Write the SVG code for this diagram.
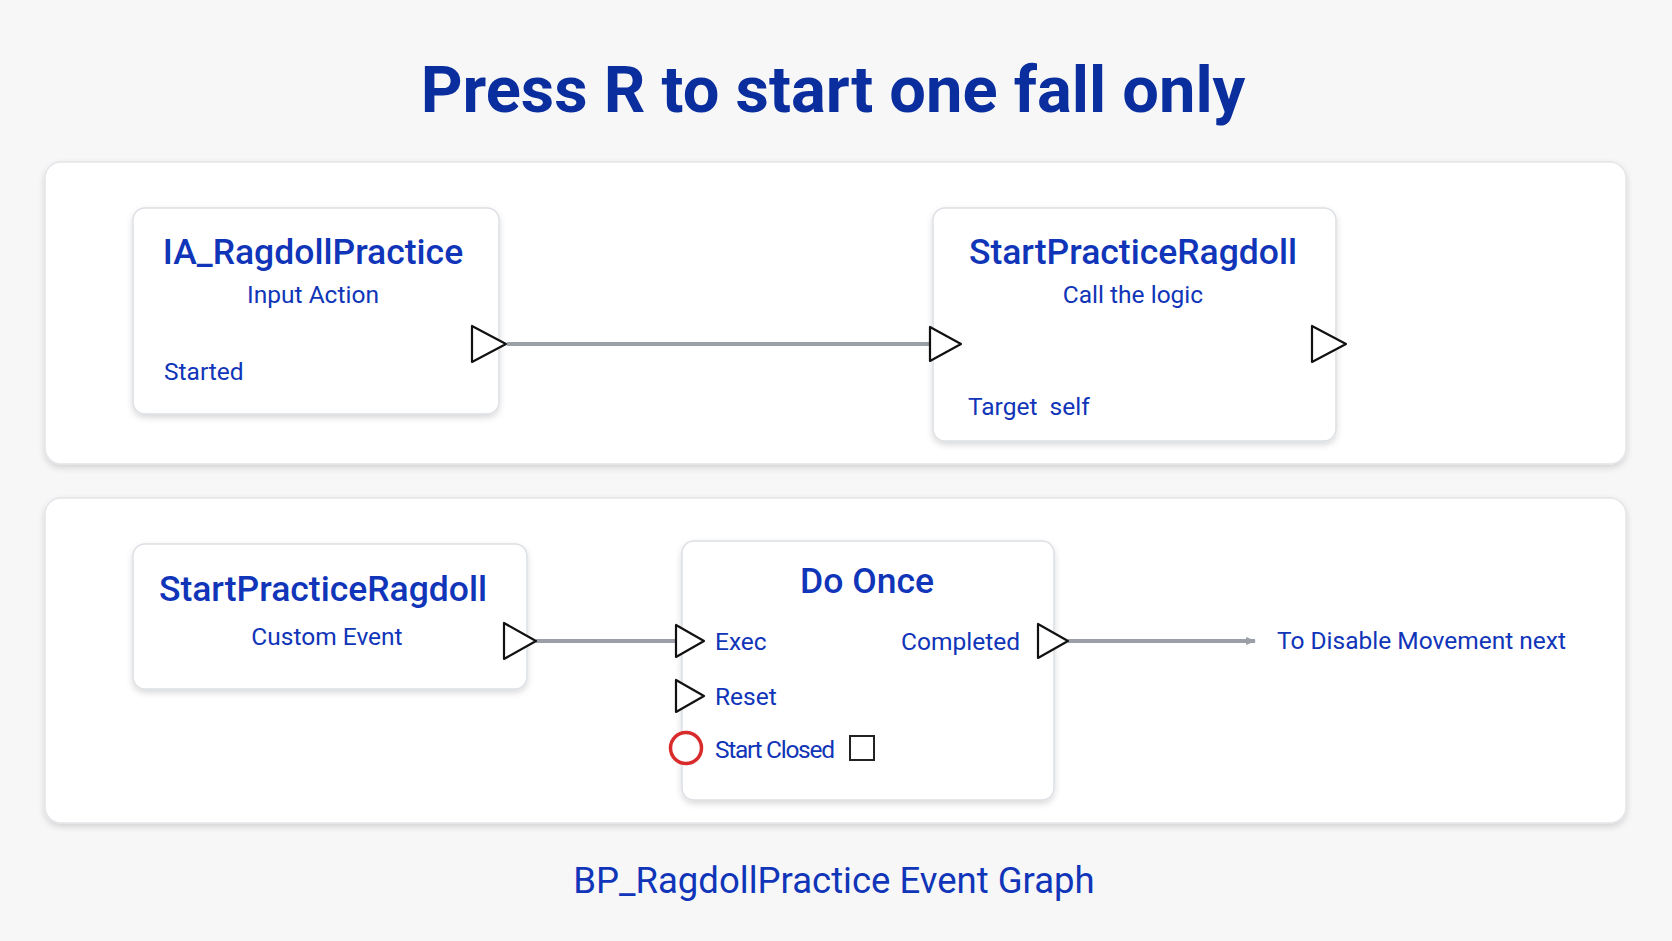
<svg xmlns="http://www.w3.org/2000/svg" width="1672" height="941" viewBox="0 0 1672 941">
<defs>
<filter id="sh" x="-10%" y="-10%" width="120%" height="130%"><feDropShadow dx="0" dy="3" stdDeviation="3" flood-color="#000" flood-opacity="0.15"/></filter>
<marker id="ah" markerWidth="10" markerHeight="10" refX="9" refY="5" orient="auto" markerUnits="userSpaceOnUse"><path d="M0,1 L10,5 L0,9 Z" fill="#9aa0a6"/></marker>
<style>
text{font-family:Roboto,"Liberation Sans",sans-serif;fill:#1035b8}
.t{font-size:35.5px;font-weight:500}
.s{font-size:24.5px}
.node{fill:#fff;stroke:#dcdfe4;stroke-width:1.5;filter:url(#sh)}
.panel{fill:#fff;stroke:#e3e5e8;stroke-width:1.5;filter:url(#sh)}
.pin{fill:#fff;stroke:#111;stroke-width:2.2;stroke-linejoin:round}
.wire{stroke:#9aa0a6;stroke-width:4;fill:none}
</style>
</defs>
<rect width="1672" height="941" fill="#f7f7f8"/>
<text x="833" y="112" text-anchor="middle" style="font-size:65px;font-weight:bold;fill:#0a2e9e">Press R to start one fall only</text>
<rect class="panel" x="45" y="162" width="1581" height="302" rx="16"/>
<rect class="panel" x="45" y="498" width="1581" height="325" rx="16"/>
<g id="connectors">
<line class="wire" x1="507" y1="344" x2="930" y2="344"/>
<line class="wire" x1="536" y1="641" x2="675" y2="641"/>
<line class="wire" x1="1068" y1="641" x2="1255" y2="641" stroke-width="3.5" marker-end="url(#ah)"/>
</g>
<g id="n1">
<rect class="node" x="133" y="208" width="366" height="206" rx="12"/>
<text class="t" x="313" y="264" text-anchor="middle">IA_RagdollPractice</text>
<text class="s" x="313" y="303" text-anchor="middle">Input Action</text>
<text class="s" x="164" y="380">Started</text>
<path class="pin" d="M472,326 L472,362 L506,344 Z"/>
</g>
<g id="n2">
<rect class="node" x="933" y="208" width="403" height="233" rx="12"/>
<text class="t" x="1133" y="264" text-anchor="middle">StartPracticeRagdoll</text>
<text class="s" x="1133" y="303" text-anchor="middle">Call the logic</text>
<text class="s" x="968" y="415" xml:space="preserve">Target  self</text>
<path class="pin" d="M930,327 L930,361 L961,344 Z"/>
<path class="pin" d="M1312,326 L1312,362 L1346,344 Z"/>
</g>
<g id="n3">
<rect class="node" x="133" y="544" width="394" height="145" rx="12"/>
<text class="t" x="323" y="601" text-anchor="middle">StartPracticeRagdoll</text>
<text class="s" x="327" y="645" text-anchor="middle">Custom Event</text>
<path class="pin" d="M504,623 L504,659 L536,641 Z"/>
</g>
<g id="n4">
<rect class="node" x="682" y="541" width="372" height="259" rx="12"/>
<text class="t" x="867" y="593" text-anchor="middle">Do Once</text>
<path class="pin" d="M676,625 L676,657 L704,641 Z"/>
<text class="s" x="715" y="650">Exec</text>
<text class="s" x="1020" y="650" text-anchor="end">Completed</text>
<path class="pin" d="M1038,624 L1038,658 L1068,641 Z"/>
<path class="pin" d="M676,680 L676,712 L704,696 Z"/>
<text class="s" x="715" y="705">Reset</text>
<circle cx="686" cy="748" r="15.5" fill="#fff" stroke="#d92b2b" stroke-width="3.5"/>
<text class="s" x="715" y="758" textLength="120">Start Closed</text>
<rect x="850" y="736" width="24" height="24" fill="#fff" stroke="#222" stroke-width="2"/>
</g>
<text class="s" x="1277" y="649">To Disable Movement next</text>
<text x="834" y="893" text-anchor="middle" style="font-size:36.5px">BP_RagdollPractice Event Graph</text>
</svg>
